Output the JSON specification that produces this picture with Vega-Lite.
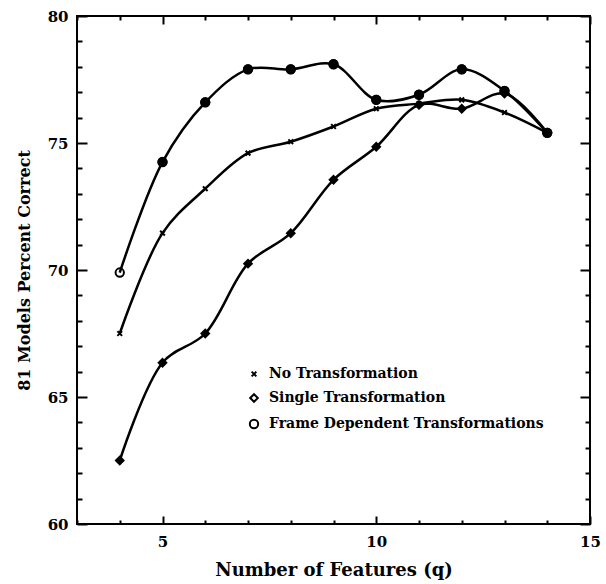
{
  "$schema": "https://vega.github.io/schema/vega-lite/v6.json",
  "width": 513,
  "height": 508,
  "autosize": "none",
  "padding": {"left": 77, "top": 16, "right": 16, "bottom": 60},
  "background": "white",
  "config": {
    "view": {"stroke": "black", "strokeWidth": 2},
    "axis": {
      "domain": false,
      "grid": false,
      "labelFont": "DejaVu Serif",
      "labelFontWeight": "bold",
      "labelFontSize": 15,
      "labelColor": "black",
      "tickColor": "black",
      "tickWidth": 2,
      "titleFont": "DejaVu Serif",
      "titleFontWeight": "bold",
      "titleColor": "black"
    },
    "legend": {
      "labelFont": "DejaVu Serif",
      "labelFontWeight": "bold",
      "labelFontSize": 14,
      "labelColor": "black",
      "labelLimit": 400
    }
  },
  "data": {
    "values": [
      {"series": "No Transformation", "q": 4, "pct": 67.5},
      {"series": "No Transformation", "q": 5, "pct": 71.45},
      {"series": "No Transformation", "q": 6, "pct": 73.2},
      {"series": "No Transformation", "q": 7, "pct": 74.6},
      {"series": "No Transformation", "q": 8, "pct": 75.05},
      {"series": "No Transformation", "q": 9, "pct": 75.65},
      {"series": "No Transformation", "q": 10, "pct": 76.35},
      {"series": "No Transformation", "q": 11, "pct": 76.55},
      {"series": "No Transformation", "q": 12, "pct": 76.7},
      {"series": "No Transformation", "q": 13, "pct": 76.2},
      {"series": "No Transformation", "q": 14, "pct": 75.4},
      {"series": "Single Transformation", "q": 4, "pct": 62.5},
      {"series": "Single Transformation", "q": 5, "pct": 66.35},
      {"series": "Single Transformation", "q": 6, "pct": 67.5},
      {"series": "Single Transformation", "q": 7, "pct": 70.25},
      {"series": "Single Transformation", "q": 8, "pct": 71.45},
      {"series": "Single Transformation", "q": 9, "pct": 73.55},
      {"series": "Single Transformation", "q": 10, "pct": 74.85},
      {"series": "Single Transformation", "q": 11, "pct": 76.5},
      {"series": "Single Transformation", "q": 12, "pct": 76.35},
      {"series": "Single Transformation", "q": 13, "pct": 76.95},
      {"series": "Single Transformation", "q": 14, "pct": 75.4},
      {"series": "Frame Dependent Transformations", "q": 4, "pct": 69.9},
      {"series": "Frame Dependent Transformations", "q": 5, "pct": 74.25},
      {"series": "Frame Dependent Transformations", "q": 6, "pct": 76.6},
      {"series": "Frame Dependent Transformations", "q": 7, "pct": 77.9},
      {"series": "Frame Dependent Transformations", "q": 8, "pct": 77.9},
      {"series": "Frame Dependent Transformations", "q": 9, "pct": 78.1},
      {"series": "Frame Dependent Transformations", "q": 10, "pct": 76.7},
      {"series": "Frame Dependent Transformations", "q": 11, "pct": 76.9},
      {"series": "Frame Dependent Transformations", "q": 12, "pct": 77.9},
      {"series": "Frame Dependent Transformations", "q": 13, "pct": 77.05},
      {"series": "Frame Dependent Transformations", "q": 14, "pct": 75.4}
    ]
  },
  "layer": [
    {
      "mark": {"type": "line", "interpolate": "catmull-rom", "color": "black", "strokeWidth": 2.5},
      "encoding": {
        "x": {
          "field": "q", "type": "quantitative",
          "scale": {"domain": [3, 15], "nice": false, "zero": false},
          "axis": {
            "orient": "bottom",
            "values": [3, 4, 5, 6, 7, 8, 9, 10, 11, 12, 13, 14, 15],
            "labelExpr": "datum.value % 5 === 0 ? datum.label : ''",
            "ticks": true,
            "tickSize": {"condition": {"test": "datum.value % 5 === 0", "value": -8}, "value": -4},
            "zindex": 1,
            "labelPadding": 18,
            "labelFlush": false,
            "labelOverlap": false,
            "title": "Number of Features (q)",
            "titleFontSize": 18,
            "titlePadding": 8
          }
        },
        "y": {
          "field": "pct", "type": "quantitative",
          "scale": {"domain": [60, 80], "nice": false, "zero": false},
          "axis": {
            "orient": "left",
            "values": [60, 61, 62, 63, 64, 65, 66, 67, 68, 69, 70, 71, 72, 73, 74, 75, 76, 77, 78, 79, 80],
            "labelExpr": "datum.value % 5 === 0 ? datum.label : ''",
            "ticks": true,
            "tickSize": {"condition": {"test": "datum.value % 5 === 0", "value": -10}, "value": -5},
            "zindex": 1,
            "labelPadding": 19,
            "labelFlush": false,
            "labelOverlap": false,
            "title": "81 Models Percent Correct",
            "titleFontSize": 16,
            "titlePadding": 15
          }
        },
        "detail": {"field": "series"}
      }
    },
    {
      "mark": {"type": "point", "filled": false, "strokeWidth": 2, "color": "black", "opacity": 1},
      "encoding": {
        "x": {
          "field": "q", "type": "quantitative",
          "axis": {
            "orient": "top",
            "values": [3, 4, 5, 6, 7, 8, 9, 10, 11, 12, 13, 14, 15],
            "labels": false,
            "ticks": true,
            "tickSize": {"condition": {"test": "datum.value % 5 === 0", "value": -8}, "value": -4},
            "zindex": 1,
            "title": null
          }
        },
        "y": {
          "field": "pct", "type": "quantitative",
          "axis": {
            "orient": "right",
            "values": [60, 61, 62, 63, 64, 65, 66, 67, 68, 69, 70, 71, 72, 73, 74, 75, 76, 77, 78, 79, 80],
            "labels": false,
            "ticks": true,
            "tickSize": {"condition": {"test": "datum.value % 5 === 0", "value": -10}, "value": -5},
            "zindex": 1,
            "title": null
          }
        },
        "shape": {
          "field": "series", "type": "nominal",
          "scale": {
            "domain": ["No Transformation", "Single Transformation", "Frame Dependent Transformations"],
            "range": ["M-0.7,-0.7L0.7,0.7M-0.7,0.7L0.7,-0.7", "diamond", "circle"]
          },
          "legend": {
            "title": null,
            "orient": "none",
            "legendX": 170,
            "legendY": 351,
            "rowPadding": 9,
            "symbolStrokeWidth": 2,
            "labelOffset": 8
          }
        },
        "size": {
          "field": "series", "type": "nominal",
          "scale": {
            "domain": ["No Transformation", "Single Transformation", "Frame Dependent Transformations"],
            "range": [45, 70, 100]
          },
          "legend": {
            "title": null,
            "orient": "none",
            "legendX": 170,
            "legendY": 351,
            "rowPadding": 9,
            "symbolStrokeWidth": 2,
            "labelOffset": 8
          }
        }
      }
    },
    {
      "transform": [{"filter": "datum.series === 'Single Transformation'"}],
      "mark": {"type": "point", "shape": "diamond", "filled": true, "color": "black", "size": 70, "opacity": 1},
      "encoding": {
        "x": {"field": "q", "type": "quantitative", "axis": null},
        "y": {"field": "pct", "type": "quantitative", "axis": null}
      }
    },
    {
      "transform": [{"filter": "datum.series === 'Frame Dependent Transformations' && datum.q > 4"}],
      "mark": {"type": "point", "shape": "circle", "filled": true, "color": "black", "size": 100, "opacity": 1},
      "encoding": {
        "x": {"field": "q", "type": "quantitative", "axis": null},
        "y": {"field": "pct", "type": "quantitative", "axis": null}
      }
    }
  ]
}
